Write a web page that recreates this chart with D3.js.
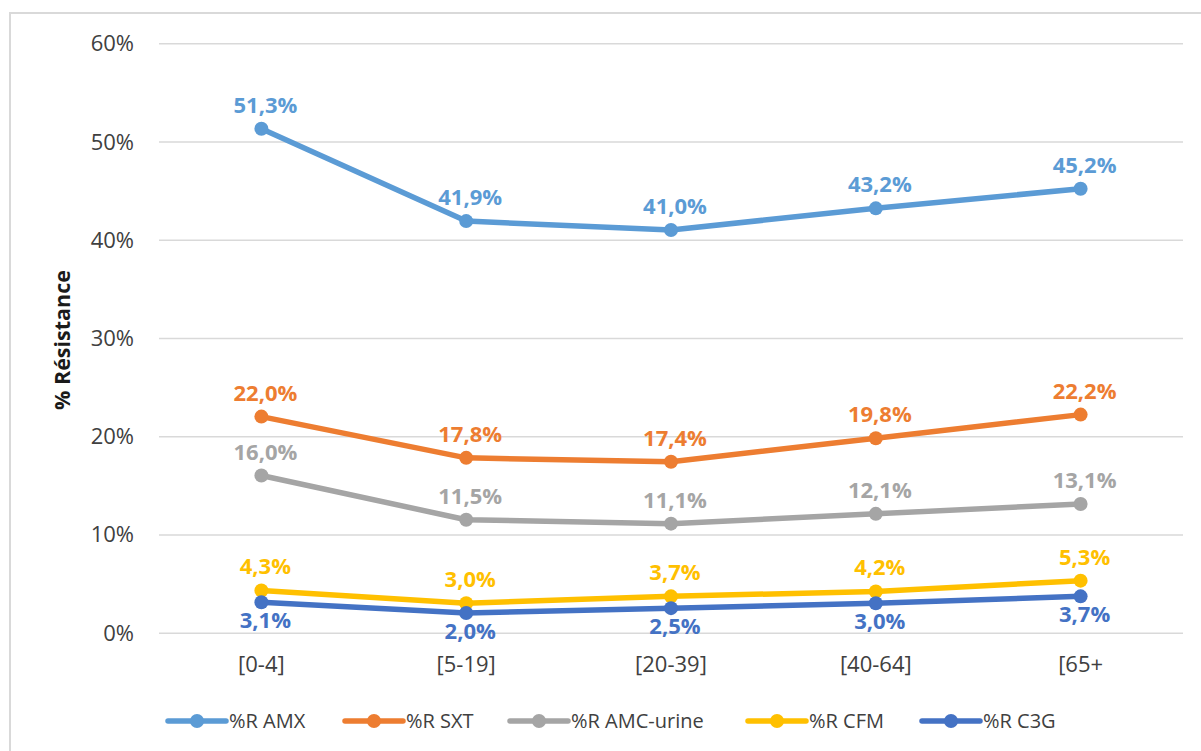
<!DOCTYPE html>
<html>
<head>
<meta charset="utf-8">
<script src="https://cdn.jsdelivr.net/npm/d3@7"></script>
<style>
  body { margin: 0; background: #fff; }
  svg { font-family: "Open Sans", sans-serif; }
  .grid line { stroke: #d9d9d9; stroke-width: 1.5; }
  .grid .domain { display: none; }
</style>
</head>
<body>
<svg id="drawing-area"></svg>
<script>
// categories and series
var ageGroups = ["[0-4]", "[5-19]", "[20-39]", "[40-64]", "[65+"];
var seriesNames = ["%R AMX", "%R SXT", "%R AMC-urine", "%R CFM", "%R C3G"];
var amx = [51.3, 41.9, 41.0, 43.2, 45.2];
var sxt = [22.0, 17.8, 17.4, 19.8, 22.2];
var amcUrine = [16.0, 11.5, 11.1, 12.1, 13.1];
var cfm = [4.3, 3.0, 3.7, 4.2, 5.3];
var c3g = [3.1, 2.0, 2.5, 3.0, 3.7];
var yTicks = [0, 10, 20, 30, 40, 50, 60];

var colors = ["#5b9bd5", "#ed7d31", "#a5a5a5", "#ffc000", "#4472c4"];
var labelBelow = [false, false, false, false, true];

var series = [amx, sxt, amcUrine, cfm, c3g].map(function(vals, i){
    return {
        name: seriesNames[i],
        color: colors[i],
        below: labelBelow[i],
        points: vals.map(function(v, j){ return {cat: ageGroups[j], value: v}; })
    };
});

var width = 1201;
var height = 751;

var da = d3.select("#drawing-area")
    .attr("width", width)
    .attr("height", height);

// chart border (right and bottom fall outside the picture)
da.append("rect")
    .attr("x", 10)
    .attr("y", 13)
    .attr("width", 1200)
    .attr("height", 760)
    .attr("fill", "none")
    .attr("stroke", "#d9d9d9")
    .attr("stroke-width", 2);

var xScale = d3.scaleBand()
    .domain(ageGroups)
    .range([159, 1183]);

var yScale = d3.scaleLinear()
    .domain([0, 60])
    .range([632.7, 43.3]);

// gridlines
var grid = d3.axisLeft(yScale)
    .tickValues(yTicks)
    .tickSize(-(1183 - 159))
    .tickFormat("");

da.append("g")
    .attr("class", "grid")
    .attr("transform", "translate(159,0)")
    .call(grid);

// y tick labels
da.selectAll(".y-labels")
    .data(yTicks)
    .enter()
    .append("text")
    .attr("class", "y-labels")
    .attr("x", 134)
    .attr("y", function(d){ return yScale(d) + 8; })
    .attr("text-anchor", "end")
    .attr("fill", "#404040")
    .style("font-size", "22px")
    .text(function(d){ return d + "%"; });

// x tick labels
da.selectAll(".x-labels")
    .data(ageGroups)
    .enter()
    .append("text")
    .attr("class", "x-labels")
    .attr("x", function(d){ return xScale(d) + xScale.bandwidth() / 2; })
    .attr("y", 672)
    .attr("text-anchor", "middle")
    .attr("fill", "#404040")
    .style("font-size", "22px")
    .text(function(d){ return d; });

// y axis title
da.append("text")
    .attr("transform", "translate(70,340) rotate(-90)")
    .attr("text-anchor", "middle")
    .attr("fill", "#1a1a1a")
    .style("font-size", "21.5px")
    .style("font-weight", "bold")
    .text("% Résistance");

var line = d3.line()
    .x(function(d){ return xScale(d.cat) + xScale.bandwidth() / 2; })
    .y(function(d){ return yScale(d.value); });

var sg = da.selectAll(".series")
    .data(series)
    .enter()
    .append("g")
    .attr("class", "series");

sg.append("path")
    .attr("d", function(d){ return line(d.points); })
    .attr("fill", "none")
    .attr("stroke", function(d){ return d.color; })
    .attr("stroke-width", 5.5)
    .attr("stroke-linejoin", "round");

sg.selectAll("circle")
    .data(function(d){ return d.points.map(function(p){ return {p: p, s: d}; }); })
    .enter()
    .append("circle")
    .attr("cx", function(d){ return xScale(d.p.cat) + xScale.bandwidth() / 2; })
    .attr("cy", function(d){ return yScale(d.p.value); })
    .attr("r", 7)
    .attr("fill", function(d){ return d.s.color; });

sg.selectAll(".val-labels")
    .data(function(d){ return d.points.map(function(p){ return {p: p, s: d}; }); })
    .enter()
    .append("text")
    .attr("class", "val-labels")
    .attr("x", function(d){ return xScale(d.p.cat) + xScale.bandwidth() / 2 + 4; })
    .attr("y", function(d){ return yScale(d.p.value) + (d.s.below ? 26 : -16); })
    .attr("text-anchor", "middle")
    .attr("fill", function(d){ return d.s.color; })
    .style("font-size", "22px")
    .style("font-weight", "bold")
    .text(function(d){ return d.p.value.toFixed(1).replace(".", ",") + "%"; });

// legend
var legendX = [168, 345, 510, 748, 922];
var lg = da.selectAll(".legend")
    .data(series)
    .enter()
    .append("g")
    .attr("class", "legend")
    .attr("transform", function(d, i){ return "translate(" + legendX[i] + ",721)"; });

lg.append("line")
    .attr("x1", 0)
    .attr("x2", 58)
    .attr("stroke", function(d){ return d.color; })
    .attr("stroke-width", 5.5)
    .attr("stroke-linecap", "round");

lg.append("circle")
    .attr("cx", 29)
    .attr("r", 7)
    .attr("fill", function(d){ return d.color; });

lg.append("text")
    .attr("x", 61)
    .attr("y", 7)
    .attr("fill", "#404040")
    .style("font-size", "20px")
    .text(function(d){ return d.name; });
</script>
</body>
</html>
